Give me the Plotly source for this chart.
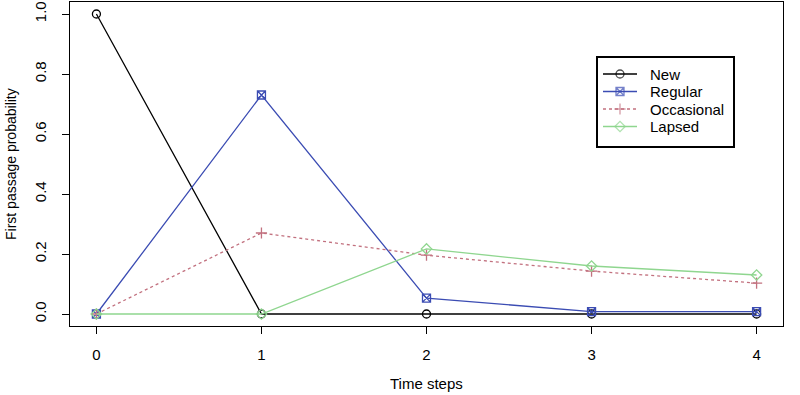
import plotly.graph_objects as go

time_steps = [0, 1, 2, 3, 4]
new_vals = [1.0, 0.0, 0.0, 0.0, 0.0]
regular_vals = [0.0, 0.73, 0.053, 0.008, 0.008]
occasional_vals = [0.0, 0.27, 0.196, 0.143, 0.103]
lapsed_vals = [0.0, 0.0, 0.217, 0.16, 0.13]
y_ticks = [0, 0.2, 0.4, 0.6, 0.8, 1.0]
y_tick_labels = ["0.0", "0.2", "0.4", "0.6", "0.8", "1.0"]
series_names = ["New", "Regular", "Occasional", "Lapsed"]

styles = [
    ("#000000", "circle-open", "solid"),
    ("#3b4cb3", "square-x-open", "solid"),
    ("#c2717f", "cross-thin-open", "dot"),
    ("#8fd68f", "diamond-open", "solid"),
]
values = [new_vals, regular_vals, occasional_vals, lapsed_vals]

# plot area in pixels
L, R, T, B = 70, 17, 2, 69
W, H = 800, 395
px_x = [L, W - R]
px_y = [H - B, T]

fig = go.Figure()
for name, vals, (col, sym, dash) in zip(series_names, values, styles):
    fig.add_trace(go.Scatter(
        x=time_steps, y=vals, name=name, mode="lines+markers",
        line=dict(color=col, width=1.3, dash=dash),
        marker=dict(symbol=sym, size=8, color=col, line=dict(color=col, width=1.3)),
        showlegend=False, hoverinfo="x+y+name",
    ))

# hand-drawn legend (R-style), on a pixel overlay axis
leg_left, leg_right, leg_top, leg_bottom = 597, 734, 57, 147
row_y = [74, 91.5, 109, 126.5]
annotations = []
for (name, (col, sym, dash), ry) in zip(series_names, styles, row_y):
    fig.add_trace(go.Scatter(
        x=[603, 620, 637], y=[ry, ry, ry], xaxis="x2", yaxis="y2",
        mode="lines+markers", line=dict(color=col, width=1.3, dash=dash),
        marker=dict(symbol=sym, size=[0, 8, 0], color=col, line=dict(color=col, width=1.3)),
        showlegend=False, hoverinfo="skip",
    ))
    annotations.append(dict(
        text=name, xref="x2", yref="y2", x=648, y=ry, xanchor="left", yanchor="middle",
        showarrow=False, font=dict(size=15),
    ))

annotations += [
    dict(text="Time steps", xref="paper", yref="paper", x=0.5, y=(326 - 383) / 324,
         xanchor="center", yanchor="middle", showarrow=False, font=dict(size=15)),
    dict(text="First passage probability", xref="paper", yref="paper",
         x=(11 - 70) / 713, y=0.5, textangle=-90,
         xanchor="center", yanchor="middle", showarrow=False, font=dict(size=14)),
]

FONT = "Liberation Sans, Arial, sans-serif"
fig.update_layout(
    width=W, height=H,
    margin=dict(l=L, r=R, t=T, b=B),
    paper_bgcolor="white", plot_bgcolor="white",
    font=dict(family=FONT, size=15, color="black"),
    showlegend=False,
    xaxis=dict(
        range=[-0.16, 4.16], tickvals=time_steps, ticktext=[str(t) for t in time_steps],
        showgrid=False, zeroline=False, showline=True, mirror=True, linecolor="black",
        linewidth=1, ticks="outside", ticklen=7, tickcolor="black",
        ticklabelstandoff=8, automargin=False,
    ),
    yaxis=dict(
        range=[-0.04, 1.04], tickvals=y_ticks, ticktext=y_tick_labels, tickangle=-90,
        showgrid=False, zeroline=False, showline=True, mirror=True, linecolor="black",
        linewidth=1, ticks="outside", ticklen=7, tickcolor="black",
        ticklabelstandoff=10, automargin=False,
    ),
    xaxis2=dict(range=px_x, overlaying="x", visible=False, fixedrange=True),
    yaxis2=dict(range=px_y, overlaying="y", visible=False, fixedrange=True),
    shapes=[dict(type="rect", xref="x2", yref="y2", x0=leg_left, x1=leg_right,
                 y0=leg_top, y1=leg_bottom, line=dict(color="black", width=2),
                 fillcolor="rgba(0,0,0,0)", layer="above")],
    annotations=annotations,
)

fig.write_html(
    "out.html",
    config={"displayModeBar": False},
    post_script="document.body.style.margin='0';document.body.style.overflow='hidden';",
)
